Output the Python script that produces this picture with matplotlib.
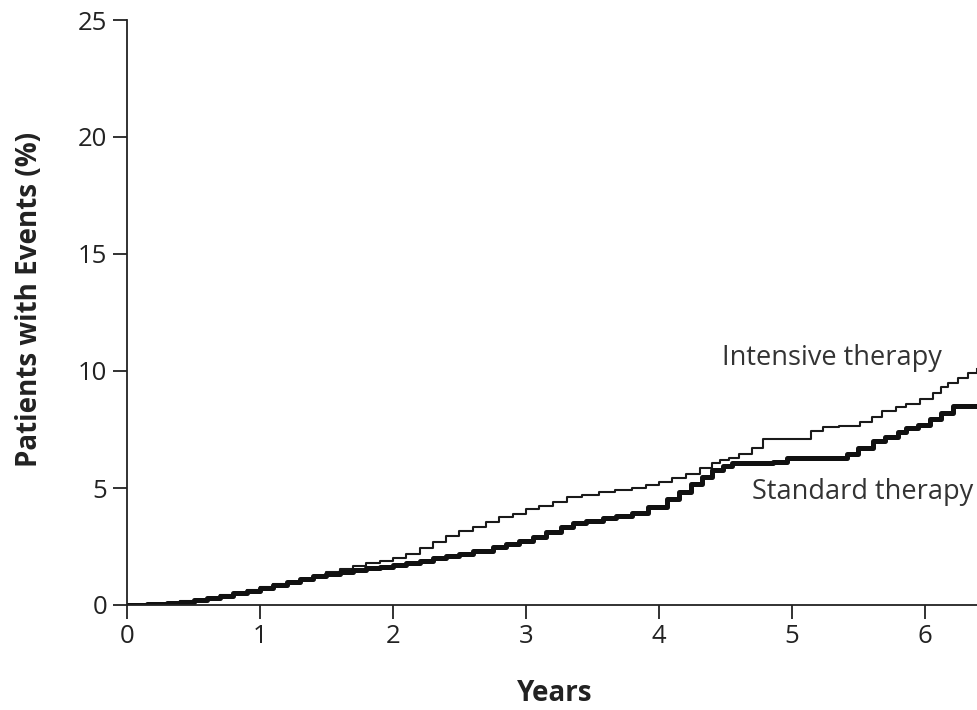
import matplotlib
matplotlib.use("Agg")
import matplotlib.pyplot as plt

# Data (years, % patients with events)
intensive_t = [0.0, 0.15, 0.3, 0.4, 0.5, 0.6, 0.7, 0.8, 0.9, 1.0, 1.1, 1.2, 1.3, 1.4, 1.5, 1.6, 1.7,
               1.8, 1.9, 2.0, 2.1, 2.2, 2.3, 2.4, 2.5, 2.6, 2.7, 2.8, 2.9, 3.0, 3.1, 3.2, 3.31,
               3.42, 3.55, 3.67, 3.8, 3.9, 4.0, 4.1, 4.2, 4.31, 4.4, 4.46, 4.53, 4.6, 4.7, 4.78,
               5.14, 5.23, 5.35, 5.51, 5.6, 5.68, 5.78, 5.86, 5.96, 6.06, 6.12, 6.17, 6.25, 6.32, 6.39]
intensive_y = [0.0, 0.03, 0.08, 0.15, 0.22, 0.32, 0.42, 0.52, 0.63, 0.75, 0.88, 1.0, 1.12, 1.25, 1.4, 1.55, 1.68,
               1.8, 1.9, 2.0, 2.2, 2.45, 2.7, 2.95, 3.15, 3.35, 3.55, 3.75, 3.9, 4.1, 4.25, 4.4, 4.6,
               4.7, 4.82, 4.92, 5.02, 5.12, 5.25, 5.42, 5.6, 5.85, 6.05, 6.2, 6.3, 6.45, 6.7, 7.1,
               7.45, 7.6, 7.65, 7.8, 8.05, 8.3, 8.45, 8.6, 8.8, 9.05, 9.3, 9.5, 9.7, 9.9, 10.1]

standard_t = [0.0, 0.15, 0.3, 0.4, 0.5, 0.6, 0.7, 0.8, 0.9, 1.0, 1.1, 1.2, 1.3, 1.4, 1.5, 1.6, 1.7,
              1.8, 1.9, 2.0, 2.1, 2.2, 2.3, 2.4, 2.5, 2.6, 2.75, 2.85, 2.95, 3.05, 3.15, 3.26, 3.35,
              3.45, 3.58, 3.68, 3.8, 3.92, 4.06, 4.15, 4.24, 4.32, 4.4, 4.48, 4.55,
              4.86, 4.96, 5.41, 5.5, 5.61, 5.7, 5.8, 5.86, 5.95, 6.04, 6.12, 6.21, 6.39]
standard_y = [0.0, 0.03, 0.07, 0.12, 0.2, 0.3, 0.4, 0.5, 0.6, 0.72, 0.85, 0.98, 1.1, 1.22, 1.32, 1.42, 1.5,
              1.57, 1.63, 1.7, 1.8, 1.9, 2.0, 2.1, 2.2, 2.32, 2.5, 2.62, 2.75, 2.9, 3.1, 3.35, 3.5,
              3.6, 3.7, 3.8, 3.95, 4.2, 4.55, 4.85, 5.15, 5.45, 5.75, 5.95, 6.05,
              6.1, 6.3, 6.45, 6.7, 7.0, 7.2, 7.4, 7.55, 7.7, 7.95, 8.2, 8.5, 8.5]

x_ticks = [0, 1, 2, 3, 4, 5, 6]
y_ticks = [0, 5, 10, 15, 20, 25]

plt.rcParams['font.family'] = ['Open Sans', 'DejaVu Sans']

fig = plt.figure(figsize=(9.78, 7.10), dpi=100)
ax = fig.add_axes([127/978, 1 - 605/710, 1 - 127/978, (605 - 20)/710])

ax.plot(intensive_t, intensive_y, drawstyle='steps-post', color='#1a1a1a', lw=1.5)
ax.plot(standard_t, standard_y, drawstyle='steps-post', color='#111111', lw=3.6)

ax.set_xlim(0, 851/133)
ax.set_ylim(0, 25)
ax.set_xticks(x_ticks)
ax.set_yticks(y_ticks)
ax.tick_params(axis='both', direction='out', length=10, width=1.3, colors='#222222',
               labelsize=18.5, pad=4)
for s in ['top', 'right']:
    ax.spines[s].set_visible(False)
for s in ['left', 'bottom']:
    ax.spines[s].set_linewidth(1.3)
    ax.spines[s].set_color('#222222')
ax.spines['left'].set_bounds(0, 25)

ax.set_ylabel('Patients with Events (%)', fontsize=20, fontweight='bold', color='#222222',
              va='center')
ax.yaxis.set_label_coords(-0.114, 0.523)
ax.set_xlabel('Years', fontsize=20, fontweight='bold', color='#222222', va='center')
ax.xaxis.set_label_coords(0.503, -0.151)

ax.text(4.47, 10.55, 'Intensive therapy', fontsize=19.5, color='#333333', ha='left', va='center')
ax.text(4.70, 4.83, 'Standard therapy', fontsize=19.5, color='#333333', ha='left', va='center')

fig.savefig('out.png', dpi=100)
